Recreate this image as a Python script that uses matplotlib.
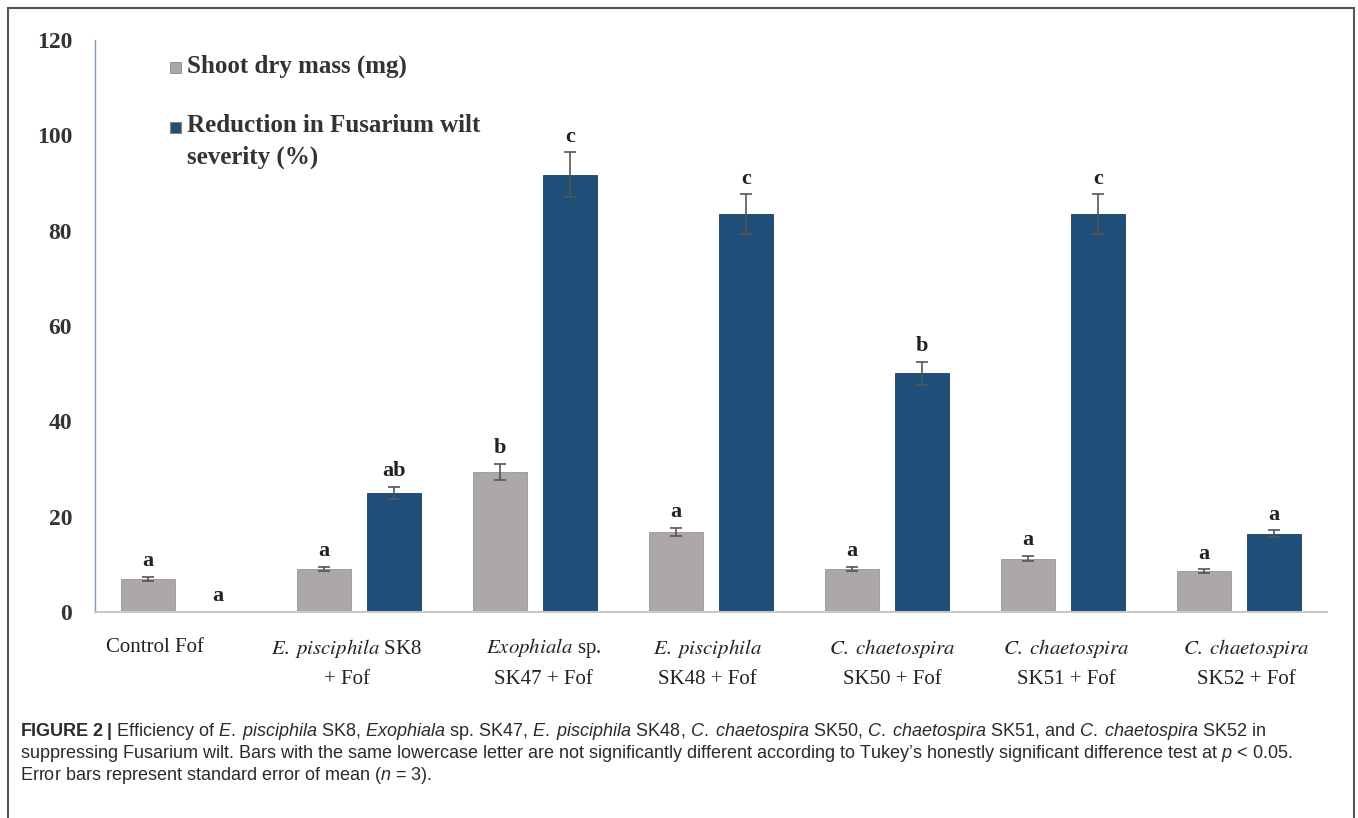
import matplotlib
matplotlib.use("Agg")
import matplotlib.pyplot as plt
import numpy as np
from matplotlib.patches import Rectangle

# data
groups_line1 = ['Control Fof', r'$\mathit{E.\;pisciphila}$ SK8', r'$\mathit{Exophiala}$ sp.',
                r'$\mathit{E.\;pisciphila}$', r'$\mathit{C.\;chaetospira}$',
                r'$\mathit{C.\;chaetospira}$', r'$\mathit{C.\;chaetospira}$']
groups_line2 = ['', '+ Fof', 'SK47 + Fof', 'SK48 + Fof', 'SK50 + Fof', 'SK51 + Fof', 'SK52 + Fof']

shoot = [6.9, 9.0, 29.4, 16.8, 9.0, 11.2, 8.6]
shoot_se = [0.5, 0.5, 1.7, 0.9, 0.45, 0.6, 0.4]
shoot_letters = ['a', 'a', 'b', 'a', 'a', 'a', 'a']

reduction = [0, 25.0, 91.7, 83.4, 50.1, 83.4, 16.4]
reduction_se = [0, 1.3, 4.7, 4.2, 2.4, 4.2, 0.7]
reduction_letters = ['a', 'ab', 'c', 'c', 'b', 'c', 'a']

W, H = 1358, 818
GRAY = '#aca8a8'
BLUE = '#1f4e79'

plt.rcParams['mathtext.fontset'] = 'custom'
plt.rcParams['mathtext.rm'] = 'Liberation Sans'
plt.rcParams['mathtext.it'] = 'Liberation Sans:italic'
plt.rcParams['mathtext.bf'] = 'Liberation Sans:bold'

def px(x, y):
    return x / W, 1 - y / H

fig = plt.figure(figsize=(W / 100, H / 100), dpi=100)
ax = fig.add_axes([95 / W, 1 - 612 / H, (1327 - 95) / W, (612 - 40) / H])

x = np.arange(len(shoot))
bw = 0.31
off = 0.2
ax.bar(x - off, shoot, bw, color=GRAY, edgecolor='#9a9696', linewidth=0.6, zorder=2)
ax.bar(x + off, reduction, bw, color=BLUE, edgecolor='#183d60', linewidth=0.6, zorder=2)

ekw = dict(fmt='none', ecolor='#555555', elinewidth=1.2, capsize=4, capthick=1.2, zorder=3)
ax.errorbar(x - off, shoot, yerr=shoot_se, **ekw)
m = np.array(reduction_se) > 0
ax.errorbar((x + off)[m], np.array(reduction)[m], yerr=np.array(reduction_se)[m], **ekw)

# significance letters
for i in range(len(x)):
    ax.annotate(shoot_letters[i], (x[i] - off, shoot[i] + shoot_se[i]), xytext=(0, 4),
                textcoords='offset points', ha='center', va='bottom',
                fontfamily='Liberation Serif', fontweight='bold', fontsize=16, color='#222222')
    ax.annotate(reduction_letters[i], (x[i] + off, reduction[i] + reduction_se[i]), xytext=(0, 4),
                textcoords='offset points', ha='center', va='bottom',
                fontfamily='Liberation Serif', fontweight='bold', fontsize=16, color='#222222')

ax.set_xlim(-0.5, 6.5)
ax.set_ylim(0, 120)
ax.set_yticks(np.arange(0, 121, 20))
ax.set_xticks([])
ax.tick_params(axis='y', length=0, pad=16.5, labelsize=17, labelcolor='#333333')
for lab in ax.get_yticklabels():
    lab.set_fontfamily('Liberation Serif')
    lab.set_fontweight('bold')
for s in ['top', 'right']:
    ax.spines[s].set_visible(False)
ax.spines['left'].set_color('#7f98b5')
ax.spines['left'].set_linewidth(1.0)
ax.spines['bottom'].set_color('#c8c8c8')
ax.spines['bottom'].set_linewidth(1.5)

# category labels, two lines
nudge = [-0.16, -0.07, 0.05, -0.02, 0.03, 0.02, 0.04]
tr = ax.get_xaxis_transform()
for i in range(len(x)):
    ax.text(x[i] + nudge[i], (612 - 648) / 572, groups_line1[i], transform=tr, ha='center', va='center',
            fontfamily='Liberation Serif', fontsize=15, color='#222222', math_fontfamily='stix')
    if groups_line2[i]:
        ax.text(x[i] + nudge[i], (612 - 679) / 572, groups_line2[i], transform=tr, ha='center', va='center',
                fontfamily='Liberation Serif', fontsize=15, color='#222222')

# legend drawn by hand so the square sits on the first line
for (sy, col) in [(62, GRAY), (122, BLUE)]:
    fig.add_artist(Rectangle(px(170, sy + 11), 11 / W, 11 / H, transform=fig.transFigure,
                             facecolor=col, edgecolor='#777777', linewidth=0.5))
lkw = dict(fontfamily='Liberation Serif', fontweight='bold', fontsize=18, color='#333333', va='center')
fig.text(*px(187, 66), 'Shoot dry mass (mg)', **lkw)
fig.text(*px(187, 126), 'Reduction in Fusarium wilt', **lkw)
fig.text(*px(187, 157), 'severity (%)', **lkw)

# caption
ckw = dict(fontfamily='Liberation Sans', fontsize=13, color='#2a2a2a',
           va='center', math_fontfamily='custom')
fig.text(*px(20, 731), r'$\mathbf{FIGURE\;2\;|}$ Efficiency of $\mathit{E.\;pisciphila}$ SK8, '
         r'$\mathit{Exophiala}$ sp. SK47, $\mathit{E.\;pisciphila}$ SK48, $\mathit{C.\;chaetospira}$ SK50, '
         r'$\mathit{C.\;chaetospira}$ SK51, and $\mathit{C.\;chaetospira}$ SK52 in', **ckw)
fig.text(*px(20, 753), 'suppressing Fusarium wilt. Bars with the same lowercase letter are not significantly '
         'different according to Tukey\u2019s honestly significant difference test at $\\mathit{p}$ < 0.05.', **ckw)
fig.text(*px(20, 775), r'Error bars represent standard error of mean ($\mathit{n}$ = 3).', **ckw)

# outer frame
fig.add_artist(Rectangle(px(8, 830), (1354 - 8) / W, (830 - 8) / H, transform=fig.transFigure,
                         fill=False, edgecolor='#555555', linewidth=1.5))

fig.savefig('out.png', dpi=100)
